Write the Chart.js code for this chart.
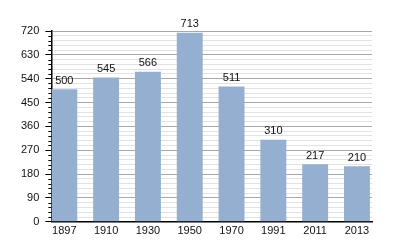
<!DOCTYPE html>
<html lang="fr">
<head>
    <meta charset="UTF-8">
    <title>Population</title>
    <script src="https://cdn.jsdelivr.net/npm/chart.js"></script>
    <style>
        html, body { margin: 0; padding: 0; background: #fff; }
        #wrap { width: 400px; height: 250px; }
    </style>
</head>
<body>
    <div id="wrap"><canvas id="popChart"></canvas></div>

    <script>
        const years = ["1897", "1910", "1930", "1950", "1970", "1991", "2011", "2013"];
        const population = [500, 545, 566, 713, 511, 310, 217, 210];
        const yMax = 720;
        const yMajorStep = 90;
        const yMinorStep = 18;

        const FONT = "'Liberation Sans', Arial, sans-serif";

        // value labels above bars + short minor ticks on the y axis
        const extras = {
            id: 'extras',
            afterDatasetsDraw(chart) {
                const ctx = chart.ctx;
                const meta = chart.getDatasetMeta(0);
                ctx.save();
                ctx.fillStyle = '#111';
                ctx.font = "11px " + FONT;
                ctx.textAlign = 'center';
                ctx.textBaseline = 'bottom';
                meta.data.forEach((bar, i) => {
                    ctx.fillText(population[i], bar.x, bar.y - 3);
                });
                ctx.restore();
            },
            afterDraw(chart) {
                const ctx = chart.ctx;
                const y = chart.scales.y;
                ctx.save();
                ctx.strokeStyle = '#000';
                ctx.lineWidth = 1;
                for (let v = 0; v <= yMax; v += yMinorStep) {
                    if (v % yMajorStep === 0) continue;
                    const py = Math.round(y.getPixelForValue(v)) + 0.5;
                    ctx.beginPath();
                    ctx.moveTo(y.right - 3, py);
                    ctx.lineTo(y.right, py);
                    ctx.stroke();
                }
                ctx.restore();
            }
        };

        document.addEventListener("DOMContentLoaded", () => {
            const ctx = document.getElementById('popChart').getContext('2d');
            new Chart(ctx, {
                type: 'bar',
                data: {
                    datasets: [{
                        data: population.map((v, i) => ({ x: i, y: v })),
                        backgroundColor: '#94afd0',
                        borderWidth: 0,
                        barPercentage: 0.62,
                        categoryPercentage: 1
                    }]
                },
                options: {
                    responsive: true,
                    maintainAspectRatio: false,
                    animation: false,
                    layout: { padding: { top: 31, right: 28, bottom: 9, left: 15 } },
                    plugins: { legend: { display: false }, tooltip: { enabled: false } },
                    scales: {
                        x: {
                            type: 'linear',
                            offset: false,
                            min: -0.31,
                            max: 7.36,
                            grid: { display: false, drawTicks: false },
                            border: { color: '#000', width: 1.5 },
                            afterBuildTicks: (scale) => {
                                scale.ticks = years.map((y, i) => ({ value: i }));
                            },
                            ticks: {
                                autoSkip: false,
                                maxRotation: 0,
                                padding: 3,
                                color: '#111',
                                font: { family: FONT, size: 11 },
                                callback: (v) => years[v] ?? ''
                            }
                        },
                        y: {
                            min: 0,
                            max: yMax,
                            border: { color: '#000', width: 1.5 },
                            grid: {
                                color: (c) => c.tick.value % yMajorStep === 0 ? '#a8a8a8' : '#e2e2e2',
                                tickColor: (c) => c.tick.value % yMajorStep === 0 ? '#000' : 'rgba(0,0,0,0)',
                                tickLength: 6,
                                lineWidth: 1
                            },
                            ticks: {
                                stepSize: yMinorStep,
                                autoSkip: false,
                                padding: 6,
                                color: '#111',
                                font: { family: FONT, size: 11 },
                                callback: (v) => v % yMajorStep === 0 ? v : ''
                            }
                        }
                    }
                },
                plugins: [extras]
            });
        });
    </script>
</body>
</html>
